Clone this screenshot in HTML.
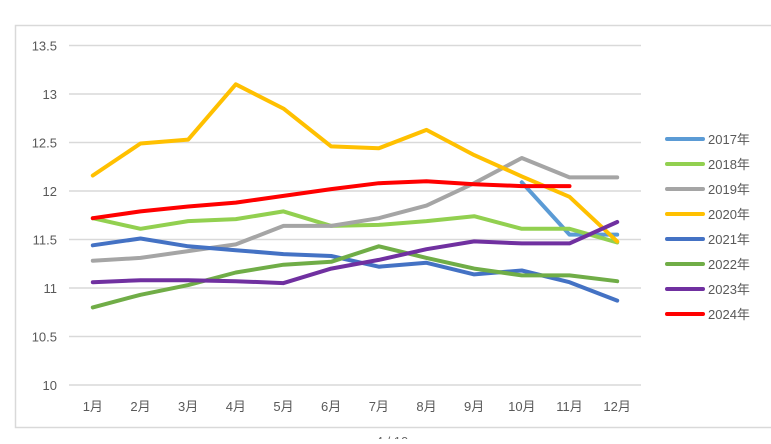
<!DOCTYPE html>
<html><head><meta charset="utf-8"><style>
body{margin:0;width:771px;height:439px;background:#fff;overflow:hidden;font-family:"Liberation Sans","Noto Sans CJK SC",sans-serif}
svg text{font-family:"Liberation Sans","Noto Sans CJK SC",sans-serif}
</style></head><body>
<svg id="chart" width="771" height="439" xmlns="http://www.w3.org/2000/svg">
<rect x="15.5" y="25.5" width="770" height="402" fill="#fff" stroke="#d9d9d9" stroke-width="1.5"/>
<g id="grid"></g><g id="series"></g><g id="legend"></g>
<text x="392" y="446" font-size="13" fill="#666" text-anchor="middle">4 / 10</text>
</svg>
<script>
const months=["1月","2月","3月","4月","5月","6月","7月","8月","9月","10月","11月","12月"];
const yTicks=[10,10.5,11,11.5,12,12.5,13,13.5];
const seriesNames=["2017年","2018年","2019年","2020年","2021年","2022年","2023年","2024年"];
const colors=["#5b9bd5","#92d050","#a5a5a5","#ffc000","#4472c4","#70ad47","#7030a0","#ff0000"];
const s2017=[null,null,null,null,null,null,null,null,null,12.09,11.55,11.55];
const s2018=[11.72,11.61,11.69,11.71,11.79,11.64,11.65,11.69,11.74,11.61,11.61,11.47];
const s2019=[11.28,11.31,11.38,11.45,11.64,11.64,11.72,11.85,12.08,12.34,12.14,12.14];
const s2020=[12.16,12.49,12.53,13.10,12.85,12.46,12.44,12.63,12.37,12.15,11.94,11.48];
const s2021=[11.44,11.51,11.43,11.39,11.35,11.33,11.22,11.26,11.14,11.18,11.06,10.87];
const s2022=[10.80,10.93,11.03,11.16,11.24,11.27,11.43,11.31,11.20,11.13,11.13,11.07];
const s2023=[11.06,11.08,11.08,11.07,11.05,11.20,11.29,11.40,11.48,11.46,11.46,11.68];
const s2024=[11.72,11.79,11.84,11.88,11.95,12.02,12.08,12.10,12.07,12.05,12.05,null];
const allSeries=[s2017,s2018,s2019,s2020,s2021,s2022,s2023,s2024];
const NS="http://www.w3.org/2000/svg";
const X0=69,X1=641,Y0=385,Y1=45.5,yMin=10,yMax=13.5;
function xs(i){return X0+(X1-X0)/months.length*(i+0.5);}
function ys(v){return Y0-(v-yMin)/(yMax-yMin)*(Y0-Y1);}
function mk(t,a,p){const e=document.createElementNS(NS,t);for(const k in a)e.setAttribute(k,a[k]);p.appendChild(e);return e;}
const grid=document.getElementById('grid');
yTicks.forEach(v=>{
 const l=mk('line',{x1:X0,x2:X1,y1:ys(v),y2:ys(v),stroke:'#d9d9d9','stroke-width':1.5},grid);
 
 
 const t=mk('text',{x:57,y:ys(v)+5,'font-size':13,fill:'#595959','text-anchor':'end'},grid);
 t.textContent=v;
 
 
});
months.forEach((m,i)=>{
 const t=mk('text',{x:xs(i),y:411,'font-size':13,fill:'#595959','text-anchor':'middle'},grid);
 t.textContent=m;
 
 
});
const sg=document.getElementById('series');
allSeries.forEach((s,k)=>{
 let d='',pen=false;
 s.forEach((v,i)=>{if(v==null){pen=false;return;}d+=(pen?'L':'M')+xs(i).toFixed(1)+' '+ys(v).toFixed(1)+' ';pen=true;});
 const p=mk('path',{d:d,fill:'none',stroke:colors[k],'stroke-width':4,'stroke-linejoin':'round','stroke-linecap':'round'},sg);
 
 
});
const lg=document.getElementById('legend');
seriesNames.forEach((n,k)=>{
 const y=139+k*25;
 const g=mk('g',{},lg);
 
 
 mk('line',{x1:667,x2:703,y1:y,y2:y,stroke:colors[k],'stroke-width':4,'stroke-linecap':'round'},g);
 const t=mk('text',{x:708,y:y+5,'font-size':13,fill:'#595959'},g);
 t.textContent=n;
});
</script>
</body></html>
